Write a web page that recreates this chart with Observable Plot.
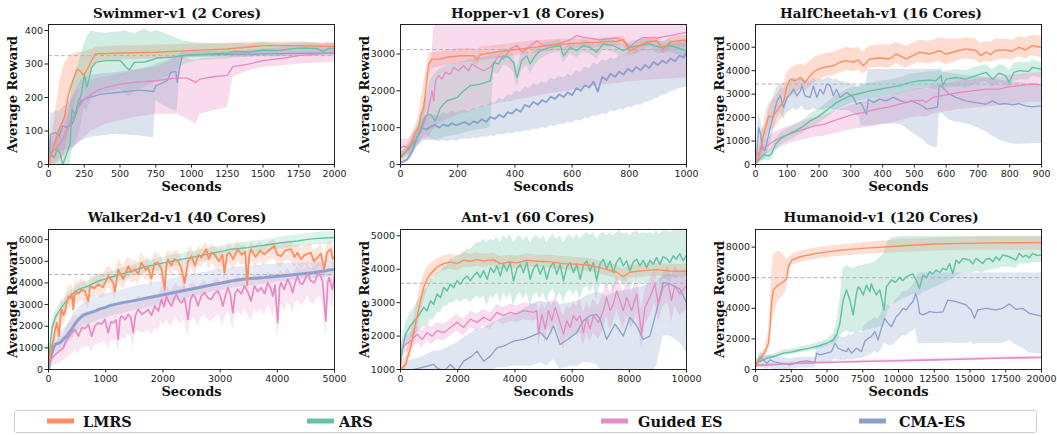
<!DOCTYPE html>
<html>
<head>
<meta charset="utf-8">
<script src="https://cdn.jsdelivr.net/npm/d3@7"></script>
<script src="https://cdn.jsdelivr.net/npm/@observablehq/plot@0.6"></script>
<style>
  html, body { margin: 0; padding: 0; background: #fff; }
  #root { position: relative; width: 1057px; height: 435px; overflow: hidden; background: #fff; }
  .panel { position: absolute; }
  .title { position: absolute; transform: translate(-50%, -50%); white-space: nowrap;
           font-family: "DejaVu Serif", serif; font-weight: bold; font-size: 13.5px; color: #111; }
  svg [aria-label="x-axis label"], svg [aria-label="y-axis label"] {
    font-family: "DejaVu Serif", serif; font-weight: bold; font-size: 13px; fill: #111;
  }
  #legend { position: absolute; left: 14px; top: 410px; width: 1021px; height: 21px;
            border: 1px solid #cfcfcf; border-radius: 3px; box-sizing: content-box; }
  .sw { position: absolute; top: 421px; width: 27px; height: 5px; transform: translateY(-50%); }
  .lt { position: absolute; top: 421px; transform: translateY(-50%); white-space: nowrap;
        font-family: "DejaVu Serif", serif; font-weight: bold; font-size: 14.5px; color: #111; }
</style>
</head>
<body>
<div id="root"></div>
<script>
// ---------- categories / colours ----------
const methods = ["LMRS", "ARS", "Guided ES", "CMA-ES"];
const methodColors = ["#fc8d62", "#66c2a5", "#e78ac3", "#8da0cb"];

// ---------- titles ----------
const titles = ["Swimmer-v1 (2 Cores)", "Hopper-v1 (8 Cores)", "HalfCheetah-v1 (16 Cores)",
                "Walker2d-v1 (40 Cores)", "Ant-v1 (60 Cores)", "Humanoid-v1 (120 Cores)"];

// ---------- tick labels ----------
const swimmerXTicks = [0, 250, 500, 750, 1000, 1250, 1500, 1750, 2000];
const swimmerYTicks = [0, 100, 200, 300, 400];
const hopperXTicks = [0, 200, 400, 600, 800, 1000];
const hopperYTicks = [0, 1000, 2000, 3000];
const cheetahXTicks = [0, 100, 200, 300, 400, 500, 600, 700, 800, 900];
const cheetahYTicks = [0, 1000, 2000, 3000, 4000, 5000];
const walkerXTicks = [0, 1000, 2000, 3000, 4000, 5000];
const walkerYTicks = [0, 1000, 2000, 3000, 4000, 5000, 6000];
const antXTicks = [0, 2000, 4000, 6000, 8000, 10000];
const antYTicks = [1000, 2000, 3000, 4000, 5000];
const humanoidXTicks = [0, 2500, 5000, 7500, 10000, 12500, 15000, 17500, 20000];
const humanoidYTicks = [0, 2000, 4000, 6000, 8000];

// ---------- reward thresholds (dashed lines) ----------
const thresholds = [325, 3120, 3430, 4390, 3580, 6000];

// ---------- series: [seconds, mean, lower, upper] ----------
const swimmerLMRS = [[0,0,0,30],[40,60,0,130],[80,110,10,250],[110,140,30,300],[140,210,90,320],[170,250,150,330],[200,285,210,335],[220,280,235,335],[240,268,235,335],[260,275,245,338],[280,292,260,340],[310,318,290,345],[330,330,305,350],[400,331,310,352],[500,333,312,354],[750,335,315,356],[1000,340,320,360],[1250,345,325,362],[1500,355,335,365],[1750,355,340,366],[2000,352,338,362]];
const swimmerARS = [[0,40,0,80],[20,30,0,70],[40,20,0,60],[60,45,0,90],[80,35,0,90],[100,0,0,80],[125,30,0,120],[150,60,0,170],[165,165,40,250],[185,150,60,270],[210,190,90,300],[230,210,120,330],[250,268,170,360],[270,232,160,380],[300,288,200,400],[330,305,210,395],[400,310,215,392],[500,311,225,396],[540,292,210,400],[565,282,200,395],[600,305,220,390],[670,306,230,405],[720,312,240,395],[760,318,250,400],[850,320,265,385],[950,325,300,368],[1050,328,310,362],[1150,330,312,360],[1250,332,315,360],[1300,338,318,362],[1400,336,320,360],[1500,342,325,364],[1600,340,322,360],[1700,346,330,362],[1800,348,332,364],[1880,346,330,362],[1920,338,325,360],[1960,347,330,364],[2000,345,330,362]];
const swimmerGuided = [[0,30,0,60],[50,45,10,90],[100,75,20,130],[150,125,40,180],[200,165,60,220],[250,195,80,240],[300,210,100,250],[350,222,110,258],[400,230,120,262],[500,240,130,270],[600,245,140,280],[750,250,150,290],[850,256,150,310],[900,258,150,325],[970,258,135,315],[1030,245,120,310],[1060,255,150,315],[1150,262,160,318],[1250,266,170,320],[1290,292,260,335],[1400,300,280,340],[1500,310,290,345],[1650,318,295,350],[1750,325,300,355],[1900,330,303,358],[2000,335,305,360]];
const swimmerCMA = [[0,0,0,20],[15,90,30,150],[50,95,40,160],[75,85,40,160],[100,115,40,170],[130,110,45,180],[165,120,50,200],[200,160,60,230],[225,190,70,250],[285,200,80,265],[365,210,85,270],[480,215,90,275],[640,222,85,285],[735,218,80,295],[750,235,190,300],[830,250,170,310],[855,275,165,318],[890,278,160,322],[900,245,160,325],[915,285,250,330],[935,325,315,335],[1000,328,320,336],[1500,330,322,338],[2000,333,324,340]];

const hopperLMRS = [[0,180,100,300],[17,320,200,450],[35,545,400,700],[52,860,650,1050],[64,1000,750,1300],[70,1320,900,1700],[81,1545,1100,2200],[99,2730,2300,3000],[110,2860,2600,3050],[140,2860,2650,3050],[163,2910,2700,3100],[209,2950,2750,3150],[256,2950,2780,3150],[267,2840,2700,3080],[279,2980,2800,3180],[349,3070,2900,3250],[465,3180,3000,3350],[550,3260,3100,3400],[640,3300,3150,3420],[756,3345,3200,3450],[779,3380,3220,3480],[802,3090,2950,3250],[826,3180,3000,3320],[860,3320,3150,3450],[895,3360,3200,3480],[919,3140,3000,3300],[942,3320,3150,3450],[988,3380,3200,3500],[1000,3345,3180,3480]];
const hopperARS = [[0,230,150,320],[29,410,250,550],[52,640,400,900],[70,950,600,1300],[87,1320,800,1800],[105,1360,700,2300],[122,1180,650,2500],[140,1545,700,2600],[163,1730,750,2700],[198,1820,800,2750],[221,2000,850,2800],[244,2140,900,2850],[279,2180,950,2900],[314,2270,1000,2950],[326,2770,2500,3000],[343,2730,2450,3000],[360,2950,2700,3150],[378,2910,2650,3100],[395,2770,2500,3000],[407,2360,2100,2650],[424,2820,2550,3050],[442,2950,2700,3150],[453,2730,2450,2950],[471,2950,2700,3150],[488,3090,2850,3250],[523,3180,3000,3330],[558,3230,3050,3380],[570,2950,2750,3150],[593,3180,3000,3330],[616,3090,2900,3250],[640,3230,3050,3380],[663,3180,3000,3330],[686,3050,2850,3230],[709,3270,3100,3420],[744,3230,3050,3380],[779,3090,2900,3250],[802,3180,3000,3330],[837,3230,3050,3380],[872,3270,3100,3420],[907,3180,3000,3330],[942,3230,3050,3380],[1000,3090,2900,3250]];
const hopperGuided = [[0,450,250,650],[12,500,300,700],[29,450,250,700],[46,640,400,900],[58,730,500,1000],[70,860,550,1200],[76,1000,600,1400],[93,1320,700,1900],[105,1770,800,2600],[110,2000,900,3000],[116,1730,950,3700],[122,2270,1000,3900],[134,2410,1100,3900],[145,2320,1150,3900],[157,2500,1200,3900],[174,2450,1250,3900],[186,2640,1300,3900],[203,2545,1350,3900],[221,2680,1400,3900],[238,2545,1400,3900],[250,2730,1450,3900],[267,2640,1500,3900],[291,2545,1550,3900],[314,2640,1600,3900],[326,2750,1620,3900],[343,2950,1650,3900],[360,2860,1680,3900],[384,3140,1700,3900],[407,3230,1750,3900],[424,3050,1780,3900],[448,3180,1800,3850],[477,3360,1850,3800],[500,3230,1900,3800],[547,3270,1950,3800],[593,3380,2000,3800],[616,3500,2050,3800],[640,3450,2080,3800],[698,3380,2150,3800],[756,3440,2200,3800],[779,3360,2220,3800],[802,3180,2250,3800],[826,3360,2260,3800],[849,3450,2280,3800],[895,3430,2300,3800],[942,3500,2320,3800],[1000,3590,2350,3800]];
const hopperCMA = [[0,45,0,150],[23,135,50,250],[41,360,200,550],[58,730,500,950],[76,1000,700,1200],[90,950,650,1250],[105,1020,650,1300],[120,1080,650,1350],[135,1000,620,1300],[150,1090,650,1400],[165,1040,620,1350],[180,1120,660,1450],[195,1060,640,1400],[210,1110,680,1450],[225,1150,700,1480],[240,1080,680,1430],[255,1170,720,1520],[270,1130,700,1500],[285,1230,750,1600],[300,1160,730,1550],[315,1290,780,1700],[330,1240,760,1650],[345,1350,820,1800],[360,1280,800,1750],[375,1420,850,1900],[390,1380,830,1880],[405,1500,880,2000],[420,1430,860,1950],[435,1620,920,2100],[450,1560,900,2050],[465,1700,960,2200],[480,1620,940,2150],[495,1750,1000,2250],[510,1690,980,2200],[525,1840,1050,2350],[540,1780,1030,2300],[555,1900,1100,2400],[570,1830,1080,2350],[585,1960,1150,2450],[600,1880,1120,2400],[615,2080,1200,2550],[630,2000,1180,2500],[645,2150,1260,2650],[660,2090,1240,2600],[675,2250,1320,2750],[690,1980,1300,2700],[705,2380,1380,2850],[720,2290,1360,2800],[735,2460,1450,2900],[750,2380,1430,2850],[765,2520,1500,2950],[780,2440,1480,2900],[795,2600,1560,3050],[810,2520,1540,3000],[825,2650,1620,3100],[840,2560,1600,3050],[855,2700,1680,3150],[870,2620,1700,3100],[885,2780,1780,3200],[900,2700,1800,3150],[915,2820,1880,3250],[930,2750,1900,3200],[945,2880,1980,3300],[960,2800,2000,3250],[975,2960,2060,3350],[990,2900,2080,3350],[1000,3050,2100,3400]];

const cheetahLMRS = [[0,0,0,100],[10,285,50,600],[21,1000,500,1500],[31,1570,1000,2100],[42,2070,1400,2600],[52,2030,1500,2700],[63,2210,1600,2900],[78,2500,1900,3200],[89,2710,2100,3500],[99,3360,2600,3900],[110,3640,2900,4100],[125,3570,3000,4200],[141,3710,3200,4300],[156,3500,3100,4200],[172,3790,3300,4400],[188,4000,3500,4600],[214,4140,3700,4700],[245,4210,3800,4800],[266,4360,3900,4900],[287,4430,4000,5000],[308,4360,3950,4950],[323,4460,4050,5000],[339,4210,3850,4800],[360,4500,4100,5050],[391,4540,4150,5100],[422,4500,4100,5100],[443,4710,4300,5200],[474,4500,4100,5050],[495,4640,4250,5150],[516,4790,4350,5300],[547,4710,4300,5250],[579,4860,4400,5400],[600,4710,4250,5350],[641,4860,4450,5350],[662,4930,4500,5400],[693,4860,4450,5350],[709,4640,4300,5150],[725,4790,4400,5250],[740,4690,4350,5200],[756,4860,4450,5350],[787,4890,4500,5350],[808,4830,4450,5300],[829,5000,4600,5450],[850,4890,4500,5400],[871,5070,4650,5500],[886,5030,4600,5500],[900,5000,4550,5450]];
const cheetahARS = [[0,0,0,100],[16,285,100,450],[26,430,200,650],[42,360,150,600],[52,500,250,750],[63,860,550,1100],[83,1140,850,1400],[104,1290,1000,1550],[125,1430,1150,1700],[151,1640,1350,1900],[172,1860,1550,2150],[193,2000,1700,2300],[214,2210,1900,2500],[235,2430,2100,2750],[255,2640,2300,2950],[276,2790,2450,3100],[297,2930,2600,3250],[328,3030,2700,3350],[360,3140,2800,3450],[391,3210,2850,3550],[422,3290,2950,3600],[454,3360,3000,3700],[485,3500,3150,3850],[516,3570,3200,3900],[547,3600,3250,3950],[568,3570,3200,3950],[584,3790,3400,4150],[589,3360,3100,3900],[600,3640,3250,4000],[631,3710,3300,4050],[662,3640,3250,4000],[693,3790,3400,4150],[725,3930,3550,4250],[746,3640,3300,4050],[766,3890,3500,4250],[787,3790,3400,4200],[798,3500,3200,4000],[813,3930,3550,4300],[829,4000,3600,4350],[860,3970,3600,4350],[871,4140,3750,4450],[900,4070,3700,4350]];
const cheetahGuided = [[0,285,0,500],[21,710,400,1000],[36,790,450,1100],[57,1000,600,1350],[89,1210,800,1550],[120,1360,950,1700],[151,1500,1050,1850],[182,1640,1150,2000],[214,1710,1200,2100],[245,1860,1300,2250],[276,2000,1400,2400],[308,2140,1500,2550],[339,2210,1550,2650],[381,2360,1650,2800],[412,2430,1750,2900],[454,2570,1850,3050],[495,2710,2000,3200],[527,2740,2050,3250],[537,2640,2000,3200],[558,2860,2150,3350],[600,2970,2250,3450],[641,3070,2350,3550],[683,3140,2400,3600],[725,3210,2450,3700],[766,3210,2500,3700],[798,3310,2550,3800],[829,3360,2600,3850],[871,3430,2650,3900],[900,3400,2650,3900]];
const cheetahCMA = [[0,0,0,200],[6,800,0,1500],[10,1570,300,2200],[16,1290,200,1900],[21,700,150,1500],[30,600,200,1600],[45,1500,800,2500],[60,2300,1600,3000],[68,2710,2000,3300],[78,2930,2200,3500],[88,2430,1900,3200],[99,2860,2200,3500],[110,3000,2300,3600],[120,3210,2400,3700],[130,2930,2300,3600],[141,3140,2400,3650],[146,3360,2500,3700],[156,2930,2300,3600],[172,2860,2300,3550],[182,3360,2400,3700],[193,2860,2300,3550],[203,3210,2350,3650],[214,3000,2300,3600],[224,3430,2400,3700],[235,3360,2400,3700],[245,2930,2300,3600],[255,3210,2350,3650],[266,2860,2300,3550],[287,3070,2300,3500],[308,2860,2200,3400],[318,2570,2100,3300],[328,2640,2000,3300],[331,2640,1650,3300],[339,2430,1640,3400],[349,2140,1630,3500],[355,2790,1650,4050],[370,2640,1650,4050],[391,2790,1700,4050],[412,2710,1720,4050],[433,2860,1730,4050],[458,2710,1700,4050],[474,2640,1550,4050],[490,2710,1400,4050],[516,2570,1150,4050],[531,2450,1000,4050],[537,2360,900,4050],[558,2400,750,4050],[573,2460,700,4050],[578,3360,2200,4000],[589,3290,2150,3950],[610,3000,1900,3900],[631,2860,1800,3850],[662,2710,1750,3800],[693,2640,1600,3750],[725,2570,1400,3700],[746,2710,1200,3650],[766,2570,1050,3600],[787,2600,950,3550],[808,2540,880,3500],[829,2600,850,3500],[850,2500,870,3450],[871,2460,880,3450],[900,2500,900,3400]];

const walkerLMRS = [[0,310,0,600],[45,900,500,1400],[87,1390,900,1900],[120,1900,1300,2500],[145,2160,1600,2700],[186,1540,1100,2300],[210,2500,1900,3100],[232,2780,2200,3300],[260,2500,2000,3100],[290,2700,2200,3300],[320,3100,2600,3700],[348,3390,2800,3900],[380,3300,2800,3800],[410,3500,3000,4000],[435,2780,2400,3400],[465,3630,3100,4100],[520,3500,3000,4000],[581,3700,3200,4200],[640,3600,3100,4100],[697,3160,2800,3800],[726,3860,3300,4300],[800,3750,3300,4300],[871,3940,3400,4400],[950,3800,3300,4400],[1045,4320,3800,4800],[1132,4010,3500,4600],[1160,3600,3200,4300],[1219,4630,4000,5100],[1307,4170,3700,4800],[1394,4780,4200,5200],[1450,4500,4000,5000],[1510,4630,4100,5100],[1570,4400,3900,4900],[1626,4940,4400,5400],[1700,4600,4100,5100],[1742,4710,4200,5200],[1800,4200,3800,4900],[1850,4900,4400,5400],[1916,4940,4400,5400],[1980,4600,4100,5200],[2032,3700,3300,4600],[2060,4800,4300,5300],[2091,5090,4600,5500],[2150,4800,4300,5300],[2200,5100,4600,5500],[2265,5010,4500,5500],[2320,4700,4200,5200],[2381,4000,3600,4800],[2440,5000,4500,5500],[2497,5240,4700,5700],[2560,4800,4300,5300],[2620,5300,4800,5700],[2671,5170,4700,5600],[2758,5560,5000,5900],[2800,5100,4600,5600],[2850,5400,4900,5800],[2904,5320,4800,5700],[2980,5000,4500,5500],[3040,5300,4800,5700],[3078,4480,4000,5200],[3120,5300,4800,5700],[3165,5400,4900,5800],[3230,5100,4600,5600],[3310,5560,5000,5900],[3380,5300,4800,5700],[3440,5450,4900,5800],[3473,3900,3600,5000],[3510,5300,4800,5700],[3542,5560,5000,5900],[3620,5200,4700,5700],[3700,5500,5000,5900],[3775,5320,4800,5700],[3850,5500,5000,5900],[3949,5710,5100,6000],[4000,5300,4800,5800],[4065,5240,4700,5700],[4140,5500,5000,5900],[4239,5560,5000,5950],[4300,5200,4700,5700],[4355,5400,4900,5800],[4413,5090,4600,5600],[4480,5300,4800,5700],[4587,5400,4900,5800],[4640,5000,4500,5500],[4703,5170,4700,5600],[4760,5350,4800,5800],[4820,4630,4200,5300],[4870,5400,4900,5800],[4936,5560,5000,5900],[4970,5100,4700,5700],[5000,5240,4700,5700]];
const walkerARS = [[0,300,100,500],[58,1850,1500,2200],[116,2390,2100,2700],[203,2780,2500,3050],[290,3090,2800,3350],[406,3470,3200,3700],[523,3700,3450,3950],[697,3860,3600,4100],[871,4090,3850,4350],[1020,4200,3950,4450],[1161,4320,4050,4550],[1300,4430,4150,4700],[1452,4550,4300,4800],[1600,4680,4400,4950],[1742,4780,4500,5050],[1900,4860,4580,5120],[2032,4940,4650,5200],[2180,5010,4720,5280],[2323,5090,4800,5350],[2460,5160,4880,5420],[2613,5240,4950,5500],[2760,5320,5030,5580],[2904,5400,5100,5650],[3050,5470,5180,5730],[3194,5560,5260,5800],[3340,5590,5300,5850],[3484,5630,5340,5900],[3630,5690,5400,5950],[3775,5740,5450,6000],[3920,5800,5500,6050],[4065,5860,5560,6120],[4210,5900,5600,6180],[4355,5940,5650,6220],[4500,6000,5700,6280],[4646,6050,5750,6320],[4820,6080,5780,6350],[4994,6100,5800,6380]];
const walkerGuided = [[0,310,0,600],[58,500,100,900],[116,690,200,1200],[190,850,300,1400],[261,1000,400,1600],[300,1300,500,1900],[348,1470,600,2100],[400,1650,700,2300],[465,1850,900,2500],[523,1540,700,2400],[581,1930,1000,2600],[640,1900,1000,2600],[697,2080,1100,2700],[755,1540,800,2600],[810,2000,1100,2700],[871,2160,1200,2800],[930,2100,1200,2800],[987,2310,1300,2900],[1045,1700,900,2800],[1090,2200,1300,2900],[1132,2160,1300,2900],[1180,2300,1400,3000],[1219,1390,700,2900],[1250,2350,1400,3000],[1278,2470,1500,3100],[1340,2300,1400,3000],[1394,2550,1600,3200],[1440,2400,1500,3100],[1481,1700,1000,3000],[1520,2500,1600,3200],[1568,2780,1800,3400],[1630,2550,1700,3300],[1684,2630,1700,3300],[1742,2780,1800,3400],[1800,2500,1600,3300],[1858,2930,1900,3500],[1920,2700,1800,3400],[1974,3240,2200,3800],[2020,2900,2000,3600],[2061,3390,2300,3900],[2110,3100,2100,3700],[2149,2930,2000,3600],[2200,3300,2300,3900],[2236,3470,2400,4000],[2280,3200,2200,3800],[2323,3090,2100,3800],[2380,3300,2300,3900],[2439,2310,1500,3700],[2480,3200,2200,3900],[2526,3470,2400,4000],[2570,3300,2300,3900],[2613,2930,2000,3700],[2670,3400,2400,4000],[2729,3550,2500,4100],[2790,3300,2300,3900],[2845,3240,2200,3900],[2900,3500,2400,4100],[2962,3630,2500,4200],[3000,3400,2400,4000],[3049,2930,2000,3800],[3100,3500,2500,4100],[3136,3780,2700,4300],[3180,3450,2400,4100],[3223,2630,1800,3900],[3260,3500,2500,4200],[3310,3700,2700,4300],[3370,3500,2500,4200],[3426,3860,2800,4400],[3480,3600,2600,4300],[3542,3160,2200,4100],[3600,3860,2800,4400],[3660,3600,2600,4300],[3717,3780,2800,4400],[3780,3500,2500,4200],[3833,4010,3000,4500],[3880,3800,2800,4400],[3920,3390,2400,4300],[3960,3900,2900,4500],[4007,2160,1400,4300],[4040,3800,2800,4500],[4065,4010,3000,4600],[4120,3700,2700,4400],[4181,4170,3100,4700],[4230,3900,2900,4500],[4268,3550,2600,4400],[4310,4000,3000,4600],[4355,4320,3200,4800],[4400,4000,3000,4600],[4442,3940,2900,4600],[4490,4200,3200,4700],[4529,4480,3400,4900],[4580,4100,3100,4700],[4646,4010,3000,4700],[4690,4300,3300,4800],[4733,4480,3400,4900],[4790,4100,3100,4700],[4849,2240,1500,4500],[4880,4000,3000,4700],[4907,4250,3200,4800],[4965,3700,2800,4600],[5000,4320,3300,4800]];
const walkerCMA = [[0,0,0,200],[30,450,200,700],[58,770,450,1100],[87,1000,650,1350],[116,1160,800,1550],[160,1200,850,1650],[203,1240,900,1700],[260,1400,1000,1850],[319,1540,1100,2000],[360,1700,1250,2200],[406,1850,1400,2400],[460,2100,1600,2650],[523,2310,1800,2850],[580,2450,1950,3000],[639,2550,2050,3100],[720,2620,2100,3200],[813,2700,2200,3300],[900,2800,2300,3400],[987,2860,2350,3500],[1070,2950,2450,3550],[1161,3010,2500,3600],[1300,3090,2600,3700],[1452,3160,2700,3800],[1600,3240,2780,3900],[1742,3320,2850,3950],[1900,3400,2950,4050],[2032,3470,3050,4100],[2180,3550,3150,4200],[2323,3630,3200,4300],[2460,3700,3300,4350],[2613,3780,3400,4450],[2760,3860,3500,4500],[2904,3940,3600,4600],[3050,4010,3650,4650],[3194,4090,3750,4700],[3340,4150,3800,4750],[3484,4200,3850,4800],[3630,4220,3900,4800],[3775,4250,3950,4850],[3920,4290,4000,4850],[4065,4320,4050,4900],[4210,4360,4080,4900],[4355,4400,4120,4900],[4500,4440,4150,4950],[4646,4480,4200,4950],[4820,4550,4250,5000],[4994,4630,4300,5000]];

const antLMRS = [[0,1000,900,1200],[174,1150,1000,1400],[349,1650,1350,2000],[523,2360,1950,2800],[698,3060,2600,3500],[814,3460,3050,3850],[930,3710,3350,4050],[1105,3910,3650,4200],[1279,4070,3850,4300],[1512,4170,3950,4400],[1744,4220,4000,4450],[1977,4170,3950,4400],[2209,4270,4050,4500],[2442,4240,4050,4450],[2674,4290,4100,4500],[2907,4250,4050,4450],[3256,4290,4100,4480],[3488,4170,3980,4380],[3837,4220,4030,4420],[4070,4190,4000,4400],[4419,4270,4080,4460],[4767,4240,4050,4430],[5233,4220,4030,4420],[5698,4170,3980,4380],[6163,4150,3950,4350],[6628,4120,3930,4320],[7093,4020,3830,4220],[7558,3910,3720,4120],[7791,3780,3600,4000],[8023,3910,3720,4120],[8488,3960,3770,4160],[8953,3990,3800,4180],[9419,3950,3760,4150],[10000,3940,3750,4150]];
const antARS = [[0,1250,1000,1500],[80,1650,1300,2000],[174,2060,1700,2400],[349,2310,1900,2700],[581,2560,2100,3000],[700,2700,2200,3200],[814,2860,2300,3400],[930,2750,2300,3400],[1047,3060,2500,3700],[1160,2950,2500,3700],[1279,3260,2700,3900],[1400,3150,2700,3900],[1512,3460,2900,4100],[1630,3350,2900,4100],[1744,3560,3000,4300],[1860,3450,3000,4300],[1977,3660,3100,4400],[2090,3550,3000,4400],[2209,3710,3100,4500],[2330,3800,3100,4600],[2442,3650,3000,4600],[2560,3810,3100,4700],[2674,3910,3200,4800],[2790,3750,3100,4800],[2907,3960,3200,4900],[3030,3700,2900,4800],[3150,4050,3200,4900],[3260,3900,3100,4850],[3370,4100,3300,4950],[3488,3800,3000,4800],[3600,4150,3300,5000],[3720,3950,3100,4900],[3837,4200,3300,5050],[3950,3650,2900,4800],[4070,4020,3200,4950],[4190,4150,3300,5000],[4300,3900,3100,4850],[4419,4200,3300,5000],[4535,3700,2900,4800],[4651,4020,3200,4950],[4767,4150,3300,5000],[4880,3850,3100,4900],[5000,4100,3300,5000],[5116,3700,3000,4800],[5233,4070,3300,4950],[5350,4200,3400,5050],[5465,3850,3100,4900],[5581,4150,3300,5000],[5698,3650,3000,4800],[5814,4070,3300,4950],[5930,4200,3400,5050],[6047,3900,3200,4900],[6163,4150,3400,5050],[6279,3700,3100,4900],[6395,4120,3400,5000],[6512,4250,3500,5100],[6628,3950,3300,5000],[6744,4200,3500,5100],[6860,3650,3100,4900],[6977,4170,3500,5050],[7093,4300,3600,5100],[7209,4000,3400,5000],[7326,4250,3600,5100],[7442,3900,3300,5000],[7558,4220,3600,5100],[7674,4350,3700,5150],[7791,4100,3500,5050],[7907,4250,3600,5100],[8023,3950,3400,5000],[8140,4220,3600,5100],[8256,4300,3700,5150],[8372,4100,3500,5050],[8488,4270,3650,5100],[8605,4050,3500,5050],[8721,4270,3650,5100],[8837,4150,3550,5050],[8953,4350,3700,5150],[9070,4150,3550,5050],[9186,4380,3700,5150],[9302,4320,3700,5150],[9419,4200,3600,5100],[9535,4400,3750,5150],[9651,4300,3700,5150],[9767,4470,3800,5200],[9880,4250,3700,5150],[10000,4420,3800,5200]];
const antGuided = [[0,1050,900,1300],[60,1650,1400,1900],[174,1750,1500,2000],[349,1850,1600,2100],[581,2060,1800,2300],[756,1900,1650,2150],[930,2100,1850,2350],[1105,2000,1750,2250],[1279,2160,1900,2400],[1512,2100,1850,2350],[1744,2260,2000,2500],[1977,2410,2150,2650],[2209,2260,2000,2500],[2442,2510,2250,2750],[2674,2410,2150,2650],[2907,2560,2300,2800],[3140,2460,2200,2700],[3372,2710,2450,2950],[3605,2610,2350,2850],[3837,2710,2450,2950],[4070,2660,2400,2900],[4302,2760,2500,3000],[4651,2710,2450,2950],[4767,2760,2500,3000],[4826,2060,1700,2700],[4942,2660,2200,3000],[5058,2210,1800,2800],[5174,2760,2300,3100],[5291,2460,2000,2900],[5407,2860,2400,3200],[5523,2560,2100,3000],[5698,2060,1600,2600],[5814,2460,2000,2900],[5930,2260,1800,2800],[6047,2610,2100,3000],[6163,2460,2000,2900],[6279,2610,2100,3100],[6395,2100,1700,2700],[6512,2560,2100,3000],[6628,2210,1800,2800],[6744,2610,2100,3100],[6919,2410,1900,2900],[7093,2760,2200,3300],[7209,3160,2600,3600],[7326,2760,2200,3300],[7442,2960,2400,3500],[7558,3360,2800,3800],[7674,3060,2500,3600],[7791,2760,2200,3300],[7907,3160,2600,3700],[8081,2760,2200,3300],[8256,3260,2700,3800],[8430,2060,1600,2800],[8547,2860,2300,3400],[8721,3160,2600,3700],[8895,3560,3000,4000],[9012,2960,2400,3500],[9186,3460,2900,3900],[9360,3560,3000,4100],[9477,3060,2400,3700],[9593,3510,2900,4100],[9767,3260,2600,3900],[10000,3510,2800,4000]];
const antCMA = [[0,700,400,1000],[233,950,600,1250],[465,1000,650,1300],[697,1050,700,1350],[930,1100,750,1450],[1163,1150,800,1550],[1279,1050,750,1550],[1512,950,650,1600],[1744,1150,800,1700],[1860,1050,750,1750],[1977,950,650,1800],[2209,1250,850,1950],[2500,1400,950,2100],[2674,1550,1000,2200],[2907,1250,850,2250],[3140,1400,900,2350],[3372,1650,1050,2450],[3605,1700,1050,2550],[3953,1850,1100,2650],[4302,1900,1100,2800],[4593,2000,1100,2950],[4884,2110,1200,3050],[5116,1900,1100,3000],[5349,2310,1300,3050],[5581,1750,1000,2950],[5930,1950,1100,3000],[6163,2110,1100,3050],[6395,2460,1200,3150],[6628,2610,1200,3250],[6850,2650,1150,3300],[6977,2510,1000,3300],[7209,1900,700,3200],[7500,2360,800,3300],[7791,2000,700,3350],[8023,2560,800,3400],[8256,2310,750,3450],[8488,1900,700,3500],[8721,2000,800,3550],[8953,2760,1100,3650],[9186,3600,2000,3800],[9419,3560,2000,3850],[9767,3410,1800,3800],[10000,3000,1500,3700]];

const humanoidLMRS = [[0,200,100,300],[209,520,350,700],[441,850,650,1050],[674,1170,900,1450],[906,1720,1200,2500],[1022,2800,1600,4200],[1138,4540,3000,6500],[1254,5200,3500,7500],[1487,5460,4300,7700],[1719,5590,4600,7700],[1951,5740,4800,7500],[2184,5960,5300,7200],[2300,6720,6000,7300],[2532,7150,6800,7500],[3113,7370,7000,7750],[4274,7590,7200,7950],[5436,7740,7350,8100],[6597,7850,7450,8200],[7758,7930,7550,8300],[10081,8070,7650,8500],[12404,8200,7750,8600],[14727,8240,7800,8650],[17050,8280,7800,8700],[20000,8300,7800,8700]];
const humanoidARS = [[0,410,250,600],[790,740,600,900],[1400,900,750,1050],[1951,1070,900,1250],[2500,1150,980,1330],[3113,1280,1100,1450],[3700,1380,1200,1580],[4274,1500,1300,1700],[4971,1720,1500,1950],[5436,1930,1650,2300],[5668,2260,1800,3000],[5900,3020,2200,4500],[6132,4540,2400,6600],[6365,5200,2500,6800],[6597,4540,2400,6700],[6829,3570,2400,6600],[7062,4980,2450,6700],[7180,5400,2450,6750],[7294,5300,2500,6800],[7526,4870,2500,6800],[7758,5520,2600,6900],[7991,5090,2600,6900],[8100,5600,2650,6950],[8223,5300,2700,7000],[8455,4870,2700,7100],[8688,5200,2800,7300],[8990,3890,2800,7600],[9152,5410,3500,8200],[9501,5850,4200,8600],[9800,5700,4300,8650],[10081,6020,4500,8700],[10300,5800,4600,8700],[10546,6070,4700,8700],[11010,6240,4900,8700],[11243,5850,4900,8700],[11475,5300,4800,8700],[11707,6170,5000,8700],[11950,6000,5100,8700],[12172,6390,5200,8700],[12400,6250,5300,8700],[12636,6500,5400,8700],[12900,6350,5500,8700],[13101,6610,5600,8700],[13350,6500,5700,8700],[13566,6930,5800,8700],[13798,6280,5900,8700],[14030,7150,6100,8700],[14250,6950,6200,8700],[14495,7260,6300,8700],[14959,7150,6300,8700],[15200,6900,6300,8700],[15424,7260,6400,8700],[15889,6930,6300,8700],[16100,7200,6400,8700],[16353,7260,6500,8700],[16600,7050,6500,8700],[16818,7370,6600,8700],[17050,7150,6600,8700],[17282,7480,6700,8700],[17747,7370,6700,8700],[18211,7150,6600,8700],[18444,7590,6900,8700],[18700,7350,6900,8700],[18908,7480,6900,8700],[19150,7300,6900,8700],[19373,7590,7000,8700],[19700,7450,7000,8700],[20000,7480,7000,8700]];
const humanoidGuided = [[0,260,150,350],[1500,330,240,420],[3000,410,320,490],[5000,460,380,540],[7500,520,440,600],[10000,570,490,650],[12500,630,550,710],[15000,690,610,770],[17500,750,670,830],[20000,780,700,860]];
const humanoidCMA = [[0,200,0,500],[325,850,200,1200],[790,410,0,900],[1022,630,100,900],[1254,520,0,850],[1719,410,0,800],[2416,300,0,700],[3113,520,100,800],[3577,565,100,800],[4158,460,100,800],[4274,1070,400,1600],[4506,960,400,1500],[4971,1070,450,1600],[5320,1170,500,1700],[5552,1720,700,2300],[5784,1390,600,2200],[6016,1280,600,2100],[6365,1170,600,2100],[6481,1390,700,2300],[6713,1070,600,2200],[7062,1390,700,2500],[7410,1170,700,2400],[7642,1830,800,2900],[7875,2040,900,3100],[8107,2150,1000,3200],[8339,2480,1200,3400],[8571,1930,1000,3300],[8804,2700,1300,3700],[9036,3350,1700,4300],[9268,3020,1600,4200],[9501,2800,1500,4100],[9849,3460,1800,4600],[10081,3670,2000,4800],[10314,4000,2200,5100],[10546,3890,2200,5100],[10778,4220,2400,5300],[11010,4430,2500,5500],[11196,4980,2700,5800],[11359,4430,1700,6300],[11475,3670,1700,6300],[11707,3570,1700,6300],[11940,3670,1700,6300],[12172,3780,1700,6300],[12636,3720,1700,6300],[13101,3760,1700,6300],[13450,4540,1750,6300],[14030,4430,1700,6300],[14727,4220,1700,6300],[15076,3890,1800,6300],[15308,3350,1600,6300],[15540,3890,1700,6300],[16121,4000,1700,6300],[16818,3890,1700,6300],[17282,4000,1700,6300],[17747,4280,1900,6300],[18211,3930,1600,6300],[18676,4000,1400,6300],[19141,3670,1100,6300],[20000,3500,1000,6300]];

// ---------- layout / style configuration ----------
const panels = [
  {series: [swimmerLMRS, swimmerARS, swimmerGuided, swimmerCMA], xDomain: [0, 2000], yDomain: [0, 418], xTicks: swimmerXTicks, yTicks: swimmerYTicks, widths: [1.4, 1.4, 1.3, 1.3], bandOpacity: 0.3},
  {series: [hopperLMRS, hopperARS, hopperGuided, hopperCMA], xDomain: [0, 1000], yDomain: [0, 3800], xTicks: hopperXTicks, yTicks: hopperYTicks, widths: [1.4, 1.4, 1.3, 1.8], bandOpacity: 0.3},
  {series: [cheetahLMRS, cheetahARS, cheetahGuided, cheetahCMA], xDomain: [0, 900], yDomain: [0, 5970], xTicks: cheetahXTicks, yTicks: cheetahYTicks, widths: [1.4, 1.4, 1.3, 1.3], bandOpacity: 0.3},
  {series: [walkerLMRS, walkerARS, walkerGuided, walkerCMA], xDomain: [0, 5000], yDomain: [0, 6470], xTicks: walkerXTicks, yTicks: walkerYTicks, widths: [1.8, 1.4, 1.7, 3], bandOpacity: 0.22},
  {series: [antLMRS, antARS, antGuided, antCMA], xDomain: [0, 10000], yDomain: [1000, 5190], xTicks: antXTicks, yTicks: antYTicks, widths: [1.4, 1.5, 1.3, 1.3], bandOpacity: 0.28},
  {series: [humanoidLMRS, humanoidARS, humanoidGuided, humanoidCMA], xDomain: [0, 20000], yDomain: [0, 9150], xTicks: humanoidXTicks, yTicks: humanoidYTicks, widths: [1.4, 1.5, 1.6, 1.3], bandOpacity: 0.28}
];
const colLefts = [0, 352, 707];
const rowTops = [20, 225];
const titleCentersX = [177, 528, 881];
const titleCentersY = [13, 217];

const root = document.getElementById("root");

panels.forEach((p, i) => {
  const col = i % 3, row = Math.floor(i / 3);
  const toRows = s => s.map(([t, m, lo, hi]) => ({t, m, lo, hi}));
  const bands = p.series.map((s, k) => Plot.areaY(toRows(s), {
    x: "t", y1: "lo", y2: "hi", fill: methodColors[k], fillOpacity: p.bandOpacity, clip: true
  }));
  const lineOrder = [3, 2, 1, 0];
  const lines = lineOrder.map(k => Plot.lineY(toRows(p.series[k]), {
    x: "t", y: "m", stroke: methodColors[k], strokeWidth: p.widths[k], clip: true
  }));
  const svg = Plot.plot({
    width: 344, height: 176,
    marginLeft: 48, marginRight: 10, marginTop: 4, marginBottom: 32,
    style: {fontFamily: "DejaVu Sans", fontSize: "9.5px", color: "#222", background: "transparent", overflow: "visible"},
    x: {domain: p.xDomain, ticks: p.xTicks, tickSize: 3.5, tickPadding: 2, tickFormat: d => String(d),
        label: "Seconds", labelAnchor: "center", labelArrow: "none", labelOffset: 26},
    y: {domain: p.yDomain, ticks: p.yTicks, tickSize: 3.5, tickPadding: 2, tickFormat: d => String(d),
        label: "Average Reward", labelAnchor: "center", labelArrow: "none", labelOffset: 41},
    marks: [
      ...bands,
      Plot.ruleY([thresholds[i]], {stroke: "#b3b3b3", strokeWidth: 1, strokeDasharray: "4,2.5"}),
      ...lines,
      Plot.frame({stroke: "#222", strokeWidth: 1})
    ]
  });
  const holder = document.createElement("div");
  holder.className = "panel";
  holder.style.left = colLefts[col] + "px";
  holder.style.top = rowTops[row] + "px";
  holder.appendChild(svg);
  root.appendChild(holder);

  const t = document.createElement("div");
  t.className = "title";
  t.textContent = titles[i];
  t.style.left = titleCentersX[col] + "px";
  t.style.top = titleCentersY[row] + "px";
  root.appendChild(t);
});

// ---------- legend ----------
const legend = document.createElement("div");
legend.id = "legend";
root.appendChild(legend);
const swatchLefts = [47, 307, 601, 859];
const textLefts = [83, 339, 638, 899];
methods.forEach((m, k) => {
  const sw = document.createElement("div");
  sw.className = "sw";
  sw.style.left = swatchLefts[k] + "px";
  sw.style.background = methodColors[k];
  root.appendChild(sw);
  const lt = document.createElement("div");
  lt.className = "lt";
  lt.style.left = textLefts[k] + "px";
  lt.textContent = m;
  root.appendChild(lt);
});
</script>
</body>
</html>
